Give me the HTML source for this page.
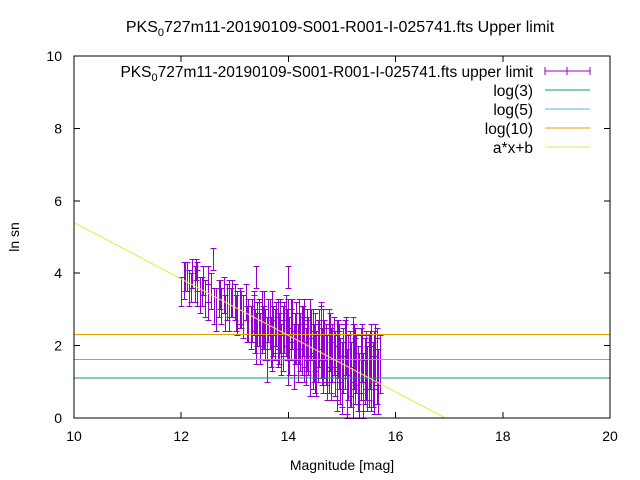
<!DOCTYPE html>
<html><head><meta charset="utf-8"><style>
body{margin:0;background:#fff}
svg{display:block;font-family:"Liberation Sans",sans-serif}
</style></head><body>
<svg id="c" width="640" height="480">
<rect width="640" height="480" fill="#fff"/>
<text x="340" y="32" font-size="16" text-anchor="middle">PKS<tspan font-size="11" dy="4">0</tspan><tspan dy="-4">727m11-20190109-S001-R001-I-025741.fts Upper limit</tspan></text>
<g id="marks" shape-rendering="crispEdges"></g>
<rect x="74" y="56" width="536" height="362" fill="none" stroke="#000" shape-rendering="crispEdges"/>
<g id="ticks" shape-rendering="crispEdges"></g>
<text x="342" y="470" font-size="14" text-anchor="middle">Magnitude [mag]</text>
<text transform="translate(19,237) rotate(-90)" font-size="14" text-anchor="middle">ln sn</text>
<g id="legend" font-size="15.5" text-anchor="end">
<text x="533" y="77">PKS<tspan font-size="11" dy="4">0</tspan><tspan dy="-4">727m11-20190109-S001-R001-I-025741.fts upper limit</tspan></text>
<text x="533" y="96">log(3)</text>
<text x="533" y="115">log(5)</text>
<text x="533" y="134">log(10)</text>
<text x="533" y="153">a*x+b</text>
<g shape-rendering="crispEdges">
<g stroke="#9400d3"><line x1="545" y1="71" x2="590" y2="71"/><line x1="545" y1="67" x2="545" y2="75"/><line x1="590" y1="67" x2="590" y2="75"/><line x1="567" y1="67" x2="567" y2="75"/></g>
<line x1="545" y1="90" x2="590" y2="90" stroke="#009e73"/>
<line x1="545" y1="109" x2="590" y2="109" stroke="#56b4e9"/>
<line x1="545" y1="128" x2="590" y2="128" stroke="#e69f00"/>
<line x1="545" y1="147" x2="590" y2="147" stroke="#f0e442"/>
</g>
</g>
</svg>
<script>
const xTicks=[10,12,14,16,18,20];
const yTicks=[0,2,4,6,8,10];
const hLines=[Math.log(3),Math.log(5),Math.log(10)];
const hColors=["#009e73","#56b4e9","#e69f00"];
const fitA=-0.78, fitB=13.2;
const mags=[12.0,12.05,12.1,12.15,12.2,12.25,12.3,12.35,12.4,12.45,12.5,12.55,12.6,12.65,12.7,12.75,12.8,12.85,12.9,12.95,13.0,13.05,13.1,13.15,13.2,13.25,13.3,13.35,13.4,13.45,13.5,13.55,13.6,13.65,13.7,13.75,13.8,13.85,13.9,13.95,14.0,14.05,14.1,14.15,14.2,14.25,14.3,14.35,14.4,14.45,14.5,14.55,14.6,14.65,14.7,14.75,14.8,14.85,14.9,14.95,15.0,15.05,15.1,15.15,15.2,15.25,15.3,15.35,15.4,15.45,15.5,15.55,15.6,15.65,15.7,13.4,13.6,13.8,14.0,14.2,14.4,14.6,14.8,15.0,15.2,15.4,15.6,13.5,13.7,13.9,14.1,14.3,14.5,14.7,14.9,15.1,15.3,15.5,14.0,14.3,14.6,14.9,15.2,12.3,12.5,12.9,13.1,
13.32,13.37,13.42,13.47,13.52,13.57,13.62,13.67,13.72,13.77,13.82,13.87,13.92,13.97,14.02,14.07,14.12,14.17,14.22,14.27,14.32,14.37,14.42,14.47,14.52,14.57,14.62,14.67,14.72,14.77,14.82,14.87,14.92,14.97,15.02,15.07,15.12,15.17,15.22,15.27,15.32,15.37,15.42,15.47,15.52,15.57,15.62,15.67,
13.35,13.45,13.55,13.65,13.75,13.85,13.95,14.05,14.15,14.25,14.35,14.45,14.55,14.65,14.75,14.85,14.95,15.05,15.15,15.25,15.35,15.45,15.55,15.65,12.08,12.18,12.28,12.38,12.62,12.72,12.82,12.92,13.02,13.12,13.22];
const lnsn=[3.5,3.8,3.9,3.6,4.0,3.7,3.9,3.4,3.8,3.3,3.2,3.5,4.4,3.0,3.3,3.1,3.4,3.2,3.0,3.3,3.2,2.9,3.1,2.8,3.2,2.7,2.5,2.9,3.9,2.6,2.4,2.8,2.2,2.6,2.9,2.3,2.1,2.5,2.0,2.7,3.9,2.3,1.9,2.4,2.6,2.0,1.8,2.3,2.5,1.6,2.1,1.9,2.4,1.5,1.8,2.2,1.6,2.0,1.4,1.8,1.2,1.7,1.0,1.5,1.9,1.3,1.1,1.6,0.8,1.4,1.2,1.7,0.9,1.3,1.5,2.2,1.8,2.6,1.7,2.2,1.4,1.9,1.3,0.9,0.7,1.0,1.6,2.9,2.0,2.4,1.6,2.1,1.5,1.7,1.1,0.6,1.2,1.4,2.8,2.7,2.5,2.0,1.8,3.6,3.7,3.3,3.0,
2.7,2.4,2.6,2.2,2.5,2.3,2.7,2.1,2.4,2.6,2.2,1.9,2.5,2.3,2.0,2.6,2.2,1.8,2.1,2.4,1.7,2.0,2.3,1.8,1.5,2.2,1.7,1.9,1.4,2.1,1.8,1.5,1.9,1.3,1.6,2.0,1.4,1.2,1.7,1.5,0.9,1.8,1.3,1.1,1.6,1.2,1.8,1.0,
2.9,2.8,2.5,2.8,2.4,2.8,2.3,2.7,2.2,2.5,2.0,2.4,1.8,2.3,1.5,2.1,1.6,1.9,1.2,1.7,1.4,1.6,1.1,1.7,3.9,3.6,4.1,3.5,3.1,3.4,2.9,3.2,2.9,3.0,2.6];
const errs=[0.4,0.5,0.4,0.5,0.4,0.5,0.4,0.5,0.4,0.5,0.5,0.5,0.3,0.6,0.5,0.5,0.5,0.5,0.6,0.5,0.5,0.6,0.5,0.6,0.5,0.6,0.6,0.6,0.3,0.6,0.6,0.7,0.6,0.7,0.6,0.7,0.7,0.7,0.7,0.7,0.3,0.7,0.7,0.8,0.7,0.8,0.8,0.7,0.8,0.8,0.8,0.8,0.8,0.8,0.8,0.8,0.9,0.8,0.9,0.8,0.9,0.9,0.9,0.9,0.9,0.9,0.9,0.9,0.8,0.9,0.9,0.9,0.8,0.9,0.8,0.7,0.8,0.7,0.8,0.7,0.8,0.8,0.8,0.8,0.7,0.8,0.8,0.6,0.7,0.7,0.8,0.7,0.8,0.8,0.9,0.6,0.8,0.9,0.5,0.6,0.6,0.7,0.8,0.5,0.5,0.5,0.5,
0.6,0.6,0.6,0.7,0.6,0.7,0.6,0.7,0.7,0.6,0.7,0.7,0.7,0.7,0.8,0.7,0.7,0.8,0.8,0.7,0.8,0.8,0.7,0.8,0.9,0.8,0.8,0.8,0.9,0.8,0.8,0.9,0.8,0.9,0.9,0.8,0.9,0.9,0.9,0.8,0.9,0.8,0.9,0.9,0.8,0.9,0.8,0.9,
0.5,0.5,0.6,0.5,0.6,0.5,0.6,0.6,0.7,0.6,0.7,0.6,0.8,0.7,0.8,0.7,0.8,0.8,0.9,0.8,0.9,0.8,0.9,0.8,0.4,0.4,0.3,0.4,0.5,0.4,0.5,0.4,0.5,0.5,0.5];
const X=v=>74+(v-10)*53.6, Y=v=>418-v*36.2;
const NS="http://www.w3.org/2000/svg";
function mk(t,a,p){const e=document.createElementNS(NS,t);for(const k in a)e.setAttribute(k,a[k]);p.appendChild(e);return e;}
const ticks=document.getElementById('ticks'),marks=document.getElementById('marks');
xTicks.forEach(v=>{const g=mk('g',{},ticks);


mk('line',{x1:X(v),x2:X(v),y1:418,y2:412,stroke:'#000'},g);mk('line',{x1:X(v),x2:X(v),y1:56,y2:62,stroke:'#000'},g);
const t=mk('text',{x:X(v),y:441,'font-size':14,'text-anchor':'middle'},g);t.textContent=v;});
yTicks.forEach(v=>{const g=mk('g',{},ticks);


mk('line',{x1:74,x2:80,y1:Y(v),y2:Y(v),stroke:'#000'},g);mk('line',{x1:610,x2:604,y1:Y(v),y2:Y(v),stroke:'#000'},g);
const t=mk('text',{x:62,y:Y(v)+5,'font-size':14,'text-anchor':'end'},g);t.textContent=v;});
mags.forEach((m,i)=>{const g=mk('g',{stroke:'#9400d3'},marks);


const x=Math.round(X(m))+0.5,y1=Math.round(Y(Math.max(0,lnsn[i]-errs[i])))+0.5,y2=Math.round(Y(lnsn[i]+errs[i]))+0.5;
mk('line',{x1:x,x2:x,y1:y1,y2:y2},g);mk('line',{x1:x-3,x2:x+3,y1:y1,y2:y1},g);mk('line',{x1:x-3,x2:x+3,y1:y2,y2:y2},g);});
hLines.forEach((v,i)=>{const l=mk('line',{x1:74,x2:610,y1:Y(v),y2:Y(v),stroke:hColors[i]},marks);

});
const x0=10,x1=(0-fitB)/fitA;
const fl=mk('line',{x1:X(x0),y1:Y(fitA*x0+fitB),x2:X(x1),y2:Y(0),stroke:'#f0e442','shape-rendering':'auto'},marks);


</script>
</body></html>
